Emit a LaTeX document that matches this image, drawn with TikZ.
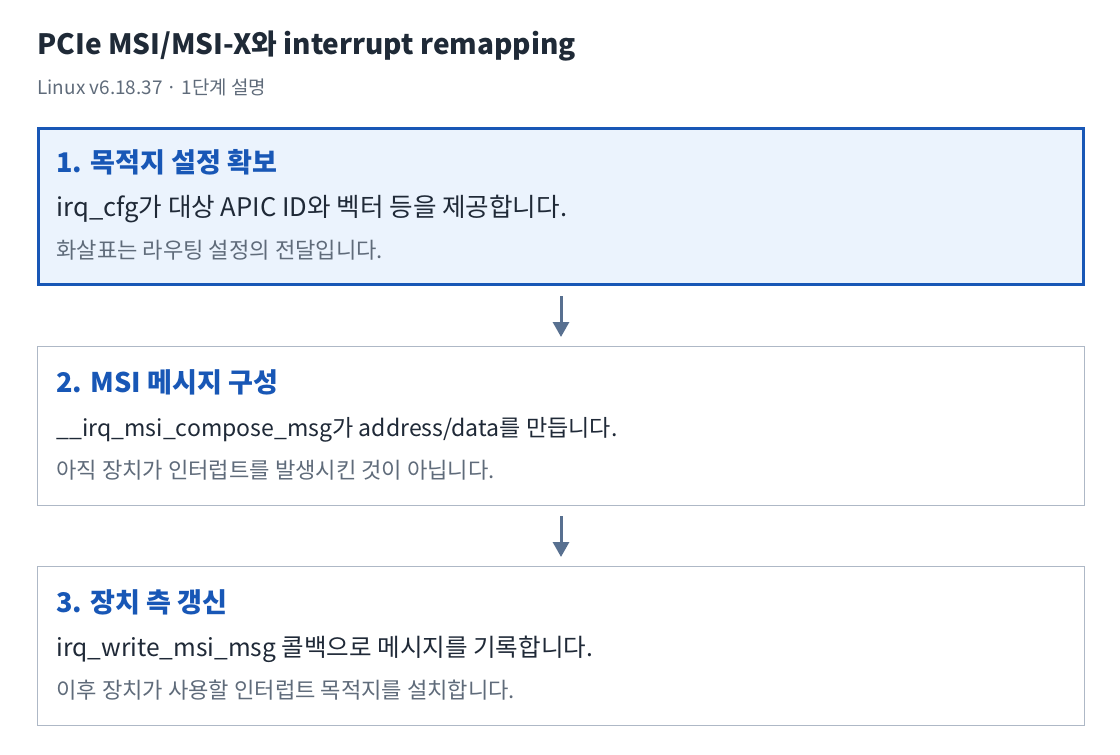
\documentclass[tikz,border=0pt]{standalone}
\usepackage{fontspec}
\setmainfont{Noto Sans CJK KR}
\usetikzlibrary{arrows.meta}

\definecolor{titleink}{HTML}{1F2A37}
\definecolor{bodyink}{HTML}{1F2937}
\definecolor{noteink}{HTML}{5F6B7A}
\definecolor{headblue}{HTML}{1857B6}
\definecolor{activefill}{HTML}{EBF3FD}
\definecolor{plainedge}{HTML}{AEB8C6}
\definecolor{arrowink}{HTML}{587090}

\tikzset{every picture/.style={line width=0.75pt},
  activebox/.style={draw=headblue, line width=2.25pt, fill=activefill, inner sep=0pt,
    minimum width=783.75pt, minimum height=117pt},
  plainbox/.style={draw=plainedge, line width=1.1pt, fill=white, inner sep=0pt,
    minimum width=784.9pt, minimum height=118.9pt},
  titletext/.style={anchor=base west, inner sep=0pt, text=titleink, font=\fontsize{21pt}{24pt}\selectfont\bfseries},
  subtext/.style={anchor=base west, inner sep=0pt, text=noteink, font=\fontsize{14.2pt}{17pt}\selectfont},
  headtext/.style={anchor=base west, inner sep=0pt, text=headblue, font=\fontsize{20.3pt}{24pt}\selectfont\bfseries},
  bodytext/.style={anchor=base west, inner sep=0pt, text=bodyink, font=\fontsize{#1}{22pt}\selectfont},
  bodytext/.default=18.5pt,
  notetext/.style={anchor=base west, inner sep=0pt, text=noteink, font=\fontsize{16.6pt}{19pt}\selectfont},
  flowarrow/.style={draw=arrowink, line width=2.25pt, -{Triangle[length=11.25pt, width=12pt]},
    shorten <=7.5pt, shorten >=6.75pt}
}

\begin{document}
\begin{tikzpicture}[x=0.75pt,y=0.75pt,yscale=-1,xscale=1]
\useasboundingbox (0,0) rectangle (1120,754);

% Title
\node [titletext] (title) at (37,54) {PCIe MSI/MSI-X와 interrupt remapping};
\node [subtext] (subtitle) at (37,94) {Linux v6.18.37 · 1단계 설명};

% Step boxes
\node [activebox] (dest) at (561,206.5) {};
\node [plainbox] (compose) at (561,426) {};
\node [plainbox] (update) at (561,646) {};

% Text Node
\node [headtext] (desthead) at (56,172) {1. 목적지 설정 확보};
\node [bodytext=19.2pt] (destbody) at (56,216) {irq\_cfg가 대상 APIC ID와 벡터 등을 제공합니다.};
\node [notetext] (destnote) at (56,258) {화살표는 라우팅 설정의 전달입니다.};

% Text Node
\node [headtext] (composehead) at (56,392) {2. MSI 메시지 구성};
\node [bodytext=17.3pt] (composebody) at (56,436) {\_\_irq\_msi\_compose\_msg가 address/data를 만듭니다.};
\node [notetext] (composenote) at (56,478) {아직 장치가 인터럽트를 발생시킨 것이 아닙니다.};

% Text Node
\node [headtext] (updatehead) at (56,612) {3. 장치 측 갱신};
\node [bodytext=18.4pt] (updatebody) at (56,656) {irq\_write\_msi\_msg 콜백으로 메시지를 기록합니다.};
\node [notetext] (updatenote) at (56,698) {이후 장치가 사용할 인터럽트 목적지를 설치합니다.};

% Connection
\draw [flowarrow] (dest.south) -- (compose.north);
% Connection
\draw [flowarrow] (compose.south) -- (update.north);

\end{tikzpicture}
\end{document}
